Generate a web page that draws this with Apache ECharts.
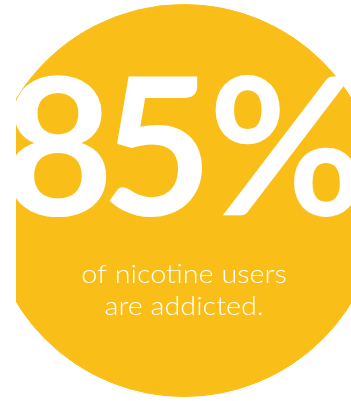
<!DOCTYPE html>
<html><head><meta charset="utf-8">
<script src="https://cdn.jsdelivr.net/npm/echarts@6/dist/echarts.min.js"></script>
<style>html,body{margin:0;padding:0;background:#fff}#c{width:351px;height:401px}</style>
</head><body><div id="c"></div>
<script>
// data
const shareNames = ['addicted', 'not addicted'];
const shareValues = [85, 15];
const captionLines = ['of nicotine users', 'are addicted.'];

const YELLOW = '#F9BE17';
const chart = echarts.init(document.getElementById('c'), null, {renderer: 'canvas'});
const bigLabel = shareValues[0] + '%';
const charX = [58, 157, 287];
const bigChars = bigLabel.split('').map((ch, i) => ({
  type: 'text', z: 10,
  x: charX[i], y: 153,
  style: {text: ch, fill: '#fff', font: 'bold 192px Lato', align: 'center', verticalAlign: 'middle'}
}));
chart.setOption({
  animation: false,
  series: [{
    type: 'pie', silent: true, center: [184, 200.5], radius: [0, 196],
    label: {show: false}, labelLine: {show: false},
    itemStyle: {color: YELLOW, borderColor: YELLOW, borderWidth: 1},
    data: shareNames.map((n, i) => ({name: n, value: shareValues[i]}))
  }],
  graphic: [
    ...bigChars,
    {type: 'text', z: 10, x: 184, y: 275, scaleX: 1.15, style: {text: captionLines[0], fill: '#fff', font: '300 25px Lato', align: 'center', verticalAlign: 'middle'}},
    {type: 'text', z: 10, x: 184, y: 307, scaleX: 1.15, style: {text: captionLines[1], fill: '#fff', font: '300 25px Lato', align: 'center', verticalAlign: 'middle'}},
    {type: 'rect', z: 20, shape: {x: 0, y: 0, width: 16, height: 401}, style: {fill: '#fff'}}
  ]
});
</script></body></html>
